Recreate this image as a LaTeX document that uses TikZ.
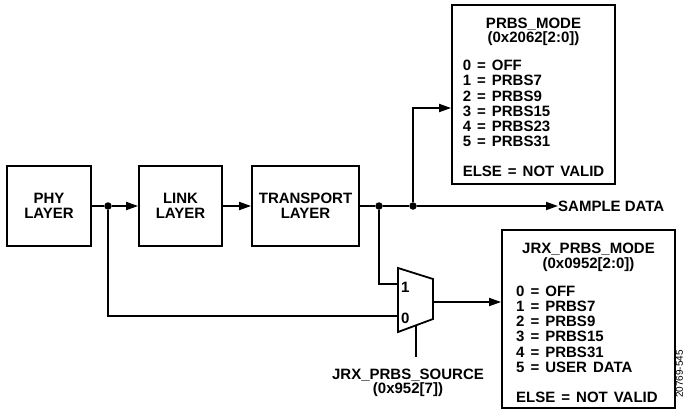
\documentclass[tikz,border=0pt]{standalone}
\usepackage{fontspec}
\setmainfont{Liberation Sans}
\usepackage{tikz}
\usetikzlibrary{arrows.meta,positioning,calc}
\newcommand{\lblfont}{\fontsize{15}{15.5}\selectfont\bfseries}
\newcommand{\regfont}{\fontsize{15}{15.2}\selectfont\bfseries\spaceskip=6pt\relax}
\tikzset{
  block/.style={draw,line width=1.8pt,minimum height=80pt,inner sep=0pt,%
    font=\lblfont,align=center},
  regbox/.style={draw,line width=1.8pt,inner sep=0pt,font=\regfont},
  flow/.style={-{Triangle[length=12pt,width=8pt]},line width=1.8pt},
  wire/.style={line width=1.8pt},
  junc/.style={circle,fill=black,inner sep=0pt,minimum size=7.5pt},
  lbl/.style={font=\lblfont,inner sep=0pt,align=center},
}
\begin{document}
\begin{tikzpicture}[x=1pt,y=-1pt]
\useasboundingbox (0,0) rectangle (686,410);
\node[block,minimum width=84pt]  (phy)   at (49,206)    {PHY\\LAYER};
\node[block,minimum width=83pt]  (link)  at (180.5,206) {LINK\\LAYER};
\node[block,minimum width=107pt] (trans) at (305.5,206) {TRANSPORT\\LAYER};
\node[regbox,minimum width=163pt,minimum height=179pt] (prbs) at (533.5,94.5)
  {\begin{tabular}{@{}l@{}}
   \\[-5pt]
   \multicolumn{1}{c}{PRBS\_MODE}\\[-1.5pt]
   \multicolumn{1}{c}{(0x2062[2:0])}\\[13pt]
   0 = OFF\\ 1 = PRBS7\\ 2 = PRBS9\\ 3 = PRBS15\\ 4 = PRBS23\\ 5 = PRBS31\\[15pt]
   ELSE = NOT VALID
   \end{tabular}};
\node[regbox,minimum width=173pt,minimum height=178pt] (jrx) at (588.5,319)
  {\begin{tabular}{@{}l@{}}
   \\[-3pt]
   \multicolumn{1}{c}{JRX\_PRBS\_MODE}\\[-1pt]
   \multicolumn{1}{c}{(0x0952[2:0])}\\[13pt]
   0 = OFF\\ 1 = PRBS7\\ 2 = PRBS9\\ 3 = PRBS15\\ 4 = PRBS31\\ 5 = USER DATA\\[15pt]
   ELSE = NOT VALID
   \end{tabular}};
\node[lbl,anchor=west] (sample) at (558,206) {SAMPLE DATA};
% junctions
\node[junc] (j1) at (108,206) {};
\node[junc] (j3) at (379,206) {};
\node[junc] (j4) at (413,206) {};
% mux
\coordinate (in1) at (398,284);
\coordinate (in0) at (398,316);
\coordinate (mout) at (433,302);
\coordinate (msel) at (416,325);
\coordinate (selend) at (416,357);
\draw[wire,line join=miter] (398,268) -- (433,279) -- (433,319) -- (398,332) -- cycle;
\node[lbl,anchor=west] (one)  at (401,287) {1};
\node[lbl,anchor=west] (zero) at (401,318) {0};
\node[lbl,font=\fontsize{15}{13.5}\selectfont\bfseries] (src) at (408,383)
  {JRX\_PRBS\_SOURCE\\(0x952[7])};
% connectors
\draw[wire] (phy) -- (j1);
\draw[flow] (j1) -- (link);
\draw[flow] (link) -- (trans);
\draw[wire] (trans) -- (j3) -- (j4);
\draw[flow] (j4) -- (sample);
\draw[flow] (j4) |- ([yshift=-13.5pt]prbs.west);
\draw[wire] (j3) |- (in1);
\draw[wire] (j1) |- (in0);
\draw[flow] (mout) -- (mout -| jrx.west);
\draw[wire] (msel) -- (selend);
\node[rotate=90,font=\fontsize{10}{10}\selectfont,inner sep=0pt] (fig) at (679.5,374) {20769-545};
\end{tikzpicture}
\end{document}
